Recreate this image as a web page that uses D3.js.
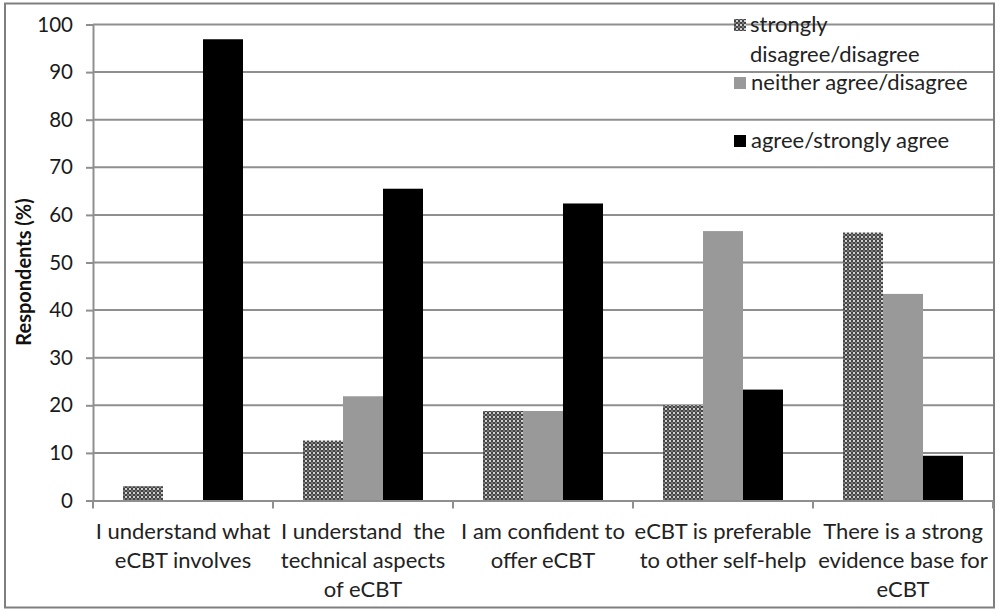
<!DOCTYPE html>
<html><head><meta charset="utf-8">
<script src="https://cdn.jsdelivr.net/npm/d3@7"></script>
<style>
html,body{margin:0;padding:0;background:#fff;}
svg{display:block;font-family:Lato,"Open Sans",sans-serif;}
</style></head>
<body>
<svg id="chart" width="999" height="611"></svg>
<script>
const categories = [
  ["I understand what", "eCBT involves"],
  ["I understand  the", "technical aspects", "of eCBT"],
  ["I am confident to", "offer eCBT"],
  ["eCBT is preferable", "to other self-help"],
  ["There is a strong", "evidence base for", "eCBT"]
];
const seriesNames = ["strongly disagree/disagree", "neither agree/disagree", "agree/strongly agree"];
const disagreeValues = [3, 12.6, 18.8, 20, 56.3];
const neitherValues = [0, 21.9, 18.8, 56.6, 43.4];
const agreeValues = [96.9, 65.5, 62.4, 23.3, 9.4];
const yTicks = [0, 10, 20, 30, 40, 50, 60, 70, 80, 90, 100];

const svg = d3.select("#chart");
const defs = svg.append("defs");
const pat = defs.append("pattern").attr("id","dots").attr("patternUnits","userSpaceOnUse")
  .attr("width",4).attr("height",4);
pat.append("rect").attr("width",4).attr("height",4).attr("fill","#444");
pat.append("circle").attr("cx",1).attr("cy",1).attr("r",1).attr("fill","#fff");
pat.append("circle").attr("cx",3).attr("cy",3).attr("r",0.8).attr("fill","#bbb");

const fills = ["url(#dots)", "#999999", "#000000"];
const seriesData = [disagreeValues, neitherValues, agreeValues];

// outer frame
svg.append("rect").attr("x",5).attr("y",3.5).attr("width",989).attr("height",604)
  .attr("fill","none").attr("stroke","#7f7f7f").attr("stroke-width",2);

const catIdx = categories.map((d,i)=>i);
const x0 = d3.scaleBand().domain(catIdx).range([93, 993]).padding(0);
const x1 = d3.scaleBand().domain([0,1,2]).range([0, x0.bandwidth()]).paddingInner(0).paddingOuter(0.75);
const y = d3.scaleLinear().domain([0,100]).range([500.5, 24.5]);

// gridlines
svg.append("g").selectAll("line").data(yTicks.filter(t=>t>0)).join("line")
  .attr("x1",93).attr("x2",993).attr("y1",d=>y(d)).attr("y2",d=>y(d))
  .attr("stroke","#8f8f8f").attr("stroke-width",2);

// y axis
const yAxis = svg.append("g").attr("transform","translate(93,0)")
  .call(d3.axisLeft(y).tickValues(yTicks).tickSize(7).tickPadding(13).tickFormat(d3.format("d")));
yAxis.select(".domain").attr("stroke","#8f8f8f").attr("stroke-width",2);
yAxis.selectAll(".tick line").attr("stroke","#8f8f8f").attr("stroke-width",2);
yAxis.selectAll(".tick text").attr("font-size",20.5).attr("fill","#1a1a1a").attr("font-family","Lato,sans-serif");

// bars
const groups = svg.append("g").selectAll("g").data(catIdx).join("g")
  .attr("transform", d=>`translate(${x0(d)},0)`);
groups.selectAll("rect").data(i=>seriesData.map((s,k)=>({k, v:s[i]}))).join("rect")
  .attr("x", d=>x1(d.k)).attr("width", x1.bandwidth())
  .attr("y", d=>y(d.v)).attr("height", d=>y(0)-y(d.v))
  .attr("fill", d=>fills[d.k]);

// x axis line and boundary ticks
const xAxis = svg.append("g").attr("transform",`translate(0,${y(0)})`)
  .call(d3.axisBottom(x0).tickSize(0).tickFormat(""));
xAxis.select(".domain").attr("stroke","#8f8f8f").attr("stroke-width",2);
svg.append("g").selectAll("line").data(d3.range(categories.length+1)).join("line")
  .attr("x1",d=>93 + d*x0.step()).attr("x2",d=>93 + d*x0.step())
  .attr("y1",y(0)).attr("y2",y(0)+8).attr("stroke","#8f8f8f").attr("stroke-width",2);

// x labels
const lbl = svg.append("g").selectAll("text").data(catIdx).join("text")
  .attr("x", d=>x0(d)+x0.bandwidth()/2).attr("y", 539)
  .attr("text-anchor","middle").attr("font-size",22).attr("fill","#222")
  .style("white-space","pre");
lbl.selectAll("tspan").data(d=>categories[d]).join("tspan")
  .attr("x", function(){ return d3.select(this.parentNode).attr("x"); })
  .attr("dy",(d,i)=>i===0?0:29).text(d=>d);

// y title
svg.append("text").attr("transform","translate(31,272) rotate(-90)")
  .attr("text-anchor","middle").attr("font-size",20).attr("font-weight","bold").attr("fill","#111")
  .text("Respondents (%)");

// legend
const leg = svg.append("g").attr("font-size",22).attr("fill","#222");
leg.append("rect").attr("x",734).attr("y",19).attr("width",12).attr("height",12).attr("fill","url(#dots)");
leg.append("text").attr("x",750).attr("y",32).text("strongly");
leg.append("text").attr("x",750).attr("y",62).text("disagree/disagree");
leg.append("rect").attr("x",734).attr("y",77).attr("width",12).attr("height",12).attr("fill",fills[1]);
leg.append("text").attr("x",751).attr("y",90).text(seriesNames[1]);
leg.append("rect").attr("x",734).attr("y",135).attr("width",12).attr("height",12).attr("fill",fills[2]);
leg.append("text").attr("x",751).attr("y",148).text(seriesNames[2]);
</script>
</body></html>
